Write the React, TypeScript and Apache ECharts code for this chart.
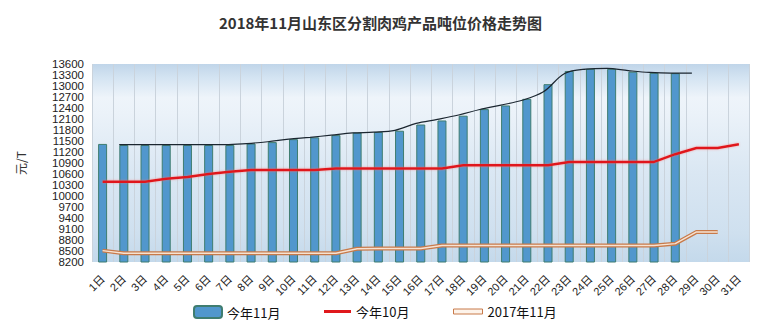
import React, { useEffect, useRef } from "react";
import * as echarts from "echarts";

const days = [
  "1日", "2日", "3日", "4日", "5日", "6日", "7日", "8日", "9日", "10日",
  "11日", "12日", "13日", "14日", "15日", "16日", "17日", "18日", "19日", "20日",
  "21日", "22日", "23日", "24日", "25日", "26日", "27日", "28日", "29日", "30日", "31日",
];

// 今年11月 (bars)
const nov2018 = [
  11420, 11390, 11390, 11390, 11390, 11390, 11390, 11430, 11470, 11550,
  11600, 11660, 11730, 11750, 11780, 11950, 12060, 12190, 12370, 12470,
  12650, 13050, 13410, 13470, 13470, 13390, 13360, 13350, null, null, null,
];

// trend line drawn over the bars
const nov2018Trend = [
  null, 11400, 11400, 11400, 11400, 11400, 11400, 11430, 11480, 11550,
  11600, 11660, 11720, 11740, 11790, 11980, 12090, 12210, 12360, 12480,
  12610, 12840, 13340, 13460, 13480, 13420, 13370, 13350, 13350, null, null,
];

// 今年10月
const oct2018 = [
  10390, 10390, 10390, 10470, 10520, 10600, 10660, 10710, 10710, 10710,
  10710, 10750, 10750, 10750, 10750, 10750, 10750, 10840, 10840, 10840,
  10840, 10840, 10930, 10930, 10930, 10930, 10930, 11140, 11310, 11310, 11410,
];

// 2017年11月
const nov2017 = [
  8510, 8440, 8440, 8440, 8440, 8440, 8440, 8440, 8440, 8440,
  8440, 8440, 8560, 8570, 8570, 8570, 8650, 8650, 8650, 8650,
  8650, 8650, 8650, 8650, 8650, 8650, 8650, 8700, 9020, 9020, null,
];

const yMin = 8200;
const yMax = 13600;
const yStep = 300;

export default function App() {
  const ref = useRef<HTMLDivElement>(null);

  useEffect(() => {
    if (!ref.current) return;
    const chart = echarts.init(ref.current, undefined, { renderer: "svg" });
    const gridLeft = 92;
    const gridTop = 64;
    const gridW = 657.5;
    const gridH = 198;
    const cjk = '"Noto Sans CJK SC", sans-serif';
    const num = '"Liberation Sans", "Noto Sans CJK SC", sans-serif';

    // two overlaid label axes (alternate ticks) so that tightly spaced labels all show
    const labelAxis = (even: boolean, withName: boolean) => ({
      type: "value",
      gridIndex: 0,
      min: yMin,
      max: yMax,
      interval: yStep,
      position: "left",
      axisLine: { show: false },
      axisTick: { show: false },
      splitLine: { show: false },
      axisLabel: {
        fontSize: 11.5,
        color: "#222",
        margin: 8,
        fontFamily: num,
        showMinLabel: true,
        showMaxLabel: true,
        formatter: (v: number) => {
          const k = Math.round((v - yMin) / yStep);
          return (k % 2 === 0) === even ? String(v) : "";
        },
      },
      ...(withName
        ? {
            name: "元/T",
            nameLocation: "middle",
            nameRotate: 90,
            nameGap: 66,
            nameTextStyle: { fontSize: 12, color: "#333", fontFamily: cjk },
          }
        : {}),
    });

    chart.setOption({
      animation: false,
      backgroundColor: "#ffffff",
      title: {
        text: "2018年11月山东区分割肉鸡产品吨位价格走势图",
        left: "center",
        top: 10,
        textStyle: { fontSize: 15, fontWeight: "bold", color: "#333", fontFamily: cjk },
      },
      legend: [
        {
          data: ["今年11月"],
          left: 188,
          top: 300,
          itemWidth: 28,
          itemHeight: 12,
          textStyle: { fontSize: 13, color: "#111", fontFamily: cjk },
        },
        {
          data: [{ name: "今年10月", icon: "rect" }],
          left: 319,
          top: 300,
          itemWidth: 27,
          itemHeight: 3,
          textStyle: { fontSize: 13, color: "#111", fontFamily: cjk },
        },
        {
          data: [
            {
              name: "2017年11月",
              icon: "rect",
              itemStyle: { color: "#fdf3ea", borderColor: "#c87a4a", borderWidth: 1 },
            },
          ],
          left: 448,
          top: 300,
          itemWidth: 29,
          itemHeight: 5,
          textStyle: { fontSize: 13, color: "#111", fontFamily: cjk },
        },
      ],
      grid: [
        {
          left: gridLeft,
          top: gridTop,
          width: gridW,
          height: gridH,
          show: true,
          borderWidth: 0,
          backgroundColor: new echarts.graphic.LinearGradient(0, 0, 0, 1, [
            { offset: 0, color: "#c0d5e9" },
            { offset: 0.07, color: "#d4e4f2" },
            { offset: 0.17, color: "#eef4fa" },
            { offset: 0.25, color: "#ebf2f9" },
            { offset: 0.55, color: "#dae7f3" },
            { offset: 0.85, color: "#cfe0ef" },
            { offset: 1, color: "#c4d9eb" },
          ]),
        },
        { left: gridLeft - 4.6, top: gridTop, width: gridW, height: gridH },
      ],
      xAxis: [
        {
          type: "category",
          gridIndex: 0,
          data: days,
          boundaryGap: true,
          axisLine: { show: false },
          axisTick: { show: false },
          splitLine: { show: true, interval: 0, lineStyle: { color: "#cad3dc", width: 1 } },
          axisLabel: {
            interval: 0,
            rotate: 45,
            margin: 15,
            fontSize: 11,
            color: "#222",
            fontFamily: num,
          },
        },
        { type: "category", gridIndex: 1, data: days, show: false, boundaryGap: true },
      ],
      yAxis: [
        labelAxis(true, true),
        { type: "value", gridIndex: 1, min: yMin, max: yMax, show: false },
        labelAxis(false, false),
      ],
      series: [
        {
          name: "今年11月",
          type: "bar",
          xAxisIndex: 0,
          yAxisIndex: 0,
          data: nov2018,
          barWidth: 9,
          itemStyle: { color: "#5197cd", borderColor: "#3f7d70", borderWidth: 1 },
          z: 2,
        },
        {
          name: "趋势",
          type: "line",
          xAxisIndex: 1,
          yAxisIndex: 1,
          data: nov2018Trend,
          symbol: "none",
          smooth: 0.35,
          lineStyle: { color: "#1b2630", width: 1.2 },
          z: 3,
        },
        {
          name: "今年10月",
          type: "line",
          xAxisIndex: 0,
          yAxisIndex: 0,
          data: oct2018,
          symbol: "none",
          itemStyle: { color: "#e0181c" },
          lineStyle: {
            color: "#e0181c",
            width: 2.5,
            shadowColor: "rgba(255,110,110,0.6)",
            shadowBlur: 2,
          },
          z: 4,
        },
        {
          name: "2017年11月",
          type: "line",
          xAxisIndex: 0,
          yAxisIndex: 0,
          data: nov2017,
          symbol: "none",
          itemStyle: { color: "#c87a4a" },
          lineStyle: { color: "#c87a4a", width: 4 },
          z: 4,
        },
        {
          name: "2017年11月inner",
          type: "line",
          xAxisIndex: 0,
          yAxisIndex: 0,
          data: nov2017,
          symbol: "none",
          lineStyle: { color: "#f6e3d3", width: 1.4 },
          z: 5,
        },
      ],
    });
    return () => chart.dispose();
  }, []);

  return (
    <div
      ref={ref}
      style={{ position: "fixed", left: 0, top: 0, width: 761, height: 325 }}
    />
  );
}
